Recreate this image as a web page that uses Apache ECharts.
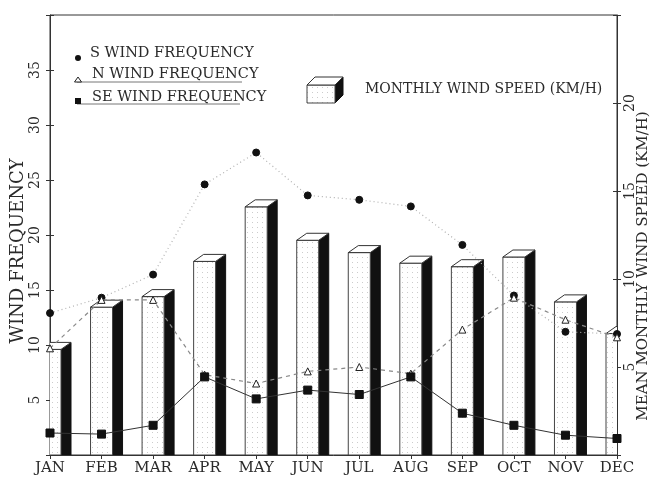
<!DOCTYPE html>
<html>
<head>
<meta charset="utf-8">
<script src="https://cdn.jsdelivr.net/npm/echarts@6/dist/echarts.min.js"></script>
<style>html,body{margin:0;padding:0;background:#fff}#c{width:656px;height:480px}</style>
</head>
<body>
<div id="c"></div>
<script>
const months = ['JAN','FEB','MAR','APR','MAY','JUN','JUL','AUG','SEP','OCT','NOV','DEC'];
const windSpeed = [6.0, 8.4, 9.0, 11.0, 14.1, 12.2, 11.5, 10.9, 10.7, 11.25, 8.7, 6.9];
const sFreq = [12.9, 14.3, 16.4, 24.6, 27.5, 23.6, 23.2, 22.6, 19.1, 14.5, 11.2, 11.0];
const nFreq = [9.7, 14.1, 14.1, 7.3, 6.5, 7.6, 8.0, 7.4, 11.4, 14.3, 12.3, 10.7];
const seFreq = [2.0, 1.9, 2.7, 7.1, 5.1, 5.9, 5.5, 7.1, 3.8, 2.7, 1.8, 1.5];
const leftTicks = [5, 10, 15, 20, 25, 30, 35];
const rightTicks = [5, 10, 15, 20];

const FONT = 'DejaVu Serif';
const INK = '#2a2a2a';

// dotted fill pattern
const pc = document.createElement('canvas');
pc.width = 5; pc.height = 5;
const pctx = pc.getContext('2d');
pctx.fillStyle = '#fff'; pctx.fillRect(0,0,5,5);
pctx.fillStyle = '#cccccc'; pctx.fillRect(2,2,1,1);
const dotFill = {image: pc, repeat: 'repeat'};

const chart = echarts.init(document.getElementById('c'));

function box3d(params, api) {
  const xi = api.value(0), v = api.value(1);
  const top = api.coord([xi, v]);
  const base = api.coord([xi, 0]);
  const w = 22, dx = 10, dy = 7;
  const x0 = top[0] - w / 2, x1 = top[0] + w / 2;
  const yt = top[1], yb = base[1];
  return {
    type: 'group',
    children: [
      {type: 'polygon', shape: {points: [[x1, yt], [x1 + dx, yt - dy], [x1 + dx, yb], [x1, yb]]},
       style: {fill: '#111', stroke: '#111', lineWidth: 1}},
      {type: 'rect', shape: {x: x0, y: yt, width: w, height: yb - yt},
       style: {fill: dotFill, stroke: '#444', lineWidth: 1}},
      {type: 'polygon', shape: {points: [[x0, yt], [x0 + dx, yt - dy], [x1 + dx, yt - dy], [x1, yt]]},
       style: {fill: '#fff', stroke: '#333', lineWidth: 1}}
    ]
  };
}

const labelStyle = {fontFamily: FONT, fontSize: 14, color: INK};

chart.setOption({
  animation: false,
  backgroundColor: '#fff',
  grid: {left: 50, right: 39, top: 15, bottom: 25, show: true, borderColor: '#333', borderWidth: 1, backgroundColor: 'transparent'},
  xAxis: [
    {type: 'category', data: months, boundaryGap: false,
     axisLine: {lineStyle: {color: '#333'}},
     axisTick: {show: true, length: 4, lineStyle: {color: '#333'}},
     axisLabel: Object.assign({}, labelStyle, {margin: 6, fontSize: 15}),
     splitLine: {show: false}},
    {type: 'category', data: months, boundaryGap: false, position: 'bottom',
     axisLine: {show: false}, axisLabel: {show: false},
     axisTick: {show: true, inside: true, length: 4, lineStyle: {color: '#333'}}}
  ],
  yAxis: [
    {type: 'value', min: 0, max: 40, interval: 5, position: 'left',
     axisLine: {show: true, lineStyle: {color: '#333'}},
     axisTick: {show: true, length: 4, lineStyle: {color: '#333'}},
     splitLine: {show: false},
     axisLabel: Object.assign({rotate: 90, margin: 8,
       formatter: v => leftTicks.indexOf(v) >= 0 ? String(v) : ''}, labelStyle)},
    {type: 'value', min: 0, max: 25, interval: 5, position: 'right',
     axisLine: {show: true, lineStyle: {color: '#333'}},
     axisTick: {show: true, length: 4, lineStyle: {color: '#333'}},
     splitLine: {show: false},
     axisLabel: Object.assign({rotate: 90, margin: 6,
       formatter: v => rightTicks.indexOf(v) >= 0 ? String(v) : ''}, labelStyle)},
    {type: 'value', min: 0, max: 40, interval: 5, position: 'left',
     axisLine: {show: false}, axisLabel: {show: false}, splitLine: {show: false},
     axisTick: {show: true, inside: true, length: 4, lineStyle: {color: '#333'}}},
    {type: 'value', min: 0, max: 25, interval: 5, position: 'right',
     axisLine: {show: false}, axisLabel: {show: false}, splitLine: {show: false},
     axisTick: {show: true, inside: true, length: 4, lineStyle: {color: '#333'}}}
  ],
  series: [
    {name: 'MONTHLY WIND SPEED (KM/H)', type: 'custom', yAxisIndex: 1, clip: true,
     renderItem: box3d, encode: {x: 0, y: 1}, z: 1,
     data: windSpeed.map((v, i) => [i, v])},
    {name: 'S WIND FREQUENCY', type: 'line', yAxisIndex: 0, data: sFreq, z: 5,
     symbol: 'circle', symbolSize: 7,
     itemStyle: {color: '#111', borderColor: '#111'},
     lineStyle: {color: '#b0b0b0', width: 1.2, type: [1, 3]}},
    {name: 'N WIND FREQUENCY', type: 'line', yAxisIndex: 0, data: nFreq, z: 6,
     symbol: 'triangle', symbolSize: 7,
     itemStyle: {color: '#fff', borderColor: '#222', borderWidth: 1},
     lineStyle: {color: '#888', width: 1.2, type: [4, 4]}},
    {name: 'SE WIND FREQUENCY', type: 'line', yAxisIndex: 0, data: seFreq, z: 7,
     symbol: 'rect', symbolSize: 8,
     itemStyle: {color: '#111', borderColor: '#111'},
     lineStyle: {color: '#333', width: 1}}
  ],
  graphic: [
    // axis titles
    {type: 'text', x: 18, y: 251, rotation: Math.PI / 2,
     style: {text: 'WIND FREQUENCY', font: '18px "DejaVu Serif"', fill: INK, align: 'center', verticalAlign: 'middle'}},
    {type: 'text', x: 643, y: 266, rotation: Math.PI / 2,
     style: {text: 'MEAN MONTHLY WIND SPEED (KM/H)', font: '15px "DejaVu Serif"', fill: INK, align: 'center', verticalAlign: 'middle'}},
    // legend: S
    {type: 'circle', shape: {cx: 78, cy: 58, r: 3}, style: {fill: '#111'}},
    {type: 'text', x: 90, y: 53, style: {text: 'S WIND FREQUENCY', font: '14.5px "DejaVu Serif"', fill: INK, verticalAlign: 'middle'}},
    // legend: N
    {type: 'line', shape: {x1: 77, y1: 82, x2: 242, y2: 82}, style: {stroke: '#777', lineWidth: 1}},
    {type: 'polygon', shape: {points: [[78, 77], [81.5, 82], [74.5, 82]]}, style: {fill: '#fff', stroke: '#222', lineWidth: 1}},
    {type: 'text', x: 92, y: 74, style: {text: 'N WIND FREQUENCY', font: '14.5px "DejaVu Serif"', fill: INK, verticalAlign: 'middle'}},
    // legend: SE
    {type: 'line', shape: {x1: 77, y1: 104, x2: 240, y2: 104}, style: {stroke: '#777', lineWidth: 1}},
    {type: 'rect', shape: {x: 75, y: 98, width: 6, height: 6}, style: {fill: '#111'}},
    {type: 'text', x: 92, y: 97, style: {text: 'SE WIND FREQUENCY', font: '14.5px "DejaVu Serif"', fill: INK, verticalAlign: 'middle'}},
    // legend: bar box
    {type: 'polygon', shape: {points: [[335, 85], [343, 77], [343, 95], [335, 103]]}, style: {fill: '#111', stroke: '#111'}},
    {type: 'rect', shape: {x: 307, y: 85, width: 28, height: 18}, style: {fill: dotFill, stroke: '#444', lineWidth: 1}},
    {type: 'polygon', shape: {points: [[307, 85], [315, 77], [343, 77], [335, 85]]}, style: {fill: '#fff', stroke: '#333', lineWidth: 1}},
    {type: 'text', x: 365, y: 89, style: {text: 'MONTHLY WIND SPEED (KM/H)', font: '14px "DejaVu Serif"', fill: INK, verticalAlign: 'middle'}}
  ]
});
</script>
</body>
</html>
